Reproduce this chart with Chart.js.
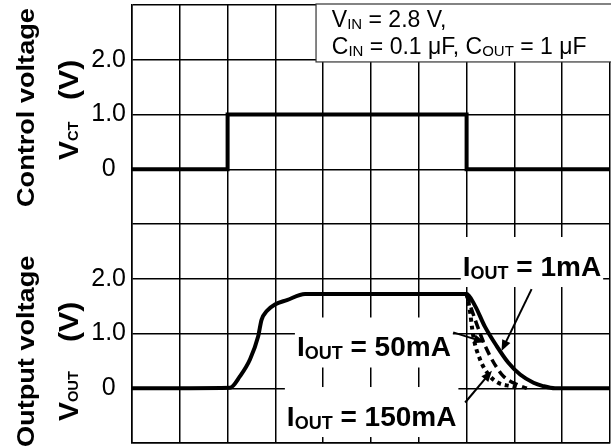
<!DOCTYPE html>
<html lang="en">
<head>
<meta charset="utf-8">
<title>Control voltage / Output voltage</title>
<script src="https://cdn.jsdelivr.net/npm/chart.js@4.4.1/dist/chart.umd.min.js"></script>
<style>
  html, body { margin: 0; padding: 0; background: #fff; }
  #wrap { width: 611px; height: 448px; }
</style>
</head>
<body>
<div id="wrap"><canvas id="timingChart" width="611" height="448"></canvas></div>
<script>
// time axis is in grid divisions (0..10), voltages in volts

// control voltage step
const CT_TIME = [0, 2, 2, 7, 7, 10];
const CT_VOLT = [0, 0, 1, 1, 0, 0];

// output rise (same for every load)
const RISE_TIME = [0, 2.05, 2.26, 2.47, 2.64, 2.71, 2.82, 2.99, 3.24, 3.62, 7.0];
const RISE_VOLT = [0, 0.01, 0.22, 0.53, 0.95, 1.25, 1.41, 1.53, 1.61, 1.72, 1.72];

// output fall per load current
const FALL_1MA_TIME = [7.0, 7.18, 7.38, 7.63, 7.87, 8.12, 8.40, 8.60, 8.85, 10];
const FALL_1MA_VOLT = [1.72, 1.50, 1.13, 0.77, 0.47, 0.25, 0.10, 0.04, 0, 0];
const FALL_50MA_TIME = [7.0, 7.1, 7.2, 7.35, 7.49, 7.63, 7.77, 8.05, 8.26];
const FALL_50MA_VOLT = [1.72, 1.45, 1.20, 0.85, 0.59, 0.38, 0.22, 0.07, 0];
const FALL_150MA_TIME = [7.0, 7.06, 7.14, 7.28, 7.46, 7.66, 7.91, 8.12];
const FALL_150MA_VOLT = [1.72, 1.47, 0.95, 0.53, 0.25, 0.10, 0.04, 0];

// tick text shown for 0, 1 and 2 V in each panel
const TICK_LABELS = ['0', '1.0', '2.0'];

// load labels: left edge (time) and baseline (output volts)
const LOAD_LABELS = [
  { text: ' = 1mA', x: 6.92, v: 2.05 },
  { text: ' = 50mA', x: 3.45, v: 0.58 },
  { text: ' = 150mA', x: 3.24, v: -0.69 }
];

// arrows from label to curve, [time, volts]
const ARROWS = [
  { from: [8.36, 1.81], to: [7.73, 0.68] },
  { from: [6.72, 1.02], to: [7.38, 0.84] },
  { from: [6.97, -0.26], to: [7.53, 0.32] }
];

var FONT = "'Liberation Sans', Arial, Helvetica, sans-serif";

function toPoints(xs, ys) {
  return xs.map(function (x, i) { return { x: x, y: ys[i] }; });
}

function drawRuns(ctx, runs, x, y) {
  runs.forEach(function (r) {
    ctx.font = r.font;
    ctx.fillText(r.text, x, y + (r.dy || 0));
    x += ctx.measureText(r.text).width;
  });
  return x;
}

function runsWidth(ctx, runs) {
  var w = 0;
  runs.forEach(function (r) {
    ctx.font = r.font;
    w += ctx.measureText(r.text).width;
  });
  return w;
}

// rotated text reading bottom to top, baseline at bx, starting at by
function drawVertical(ctx, runs, bx, by, stretch) {
  ctx.save();
  ctx.translate(bx, by);
  ctx.rotate(-Math.PI / 2);
  ctx.scale(stretch, 1);
  ctx.textAlign = 'left';
  ctx.textBaseline = 'alphabetic';
  drawRuns(ctx, runs, 0, 0);
  ctx.restore();
}

function drawArrow(ctx, x1, y1, x2, y2) {
  var ang = Math.atan2(y2 - y1, x2 - x1);
  var head = 11, half = 4.5;
  ctx.save();
  ctx.strokeStyle = '#000';
  ctx.fillStyle = '#000';
  ctx.lineWidth = 2;
  ctx.beginPath();
  ctx.moveTo(x1, y1);
  ctx.lineTo(x2 - Math.cos(ang) * head * 0.8, y2 - Math.sin(ang) * head * 0.8);
  ctx.stroke();
  ctx.beginPath();
  ctx.moveTo(x2, y2);
  ctx.lineTo(x2 - Math.cos(ang) * head - Math.sin(ang) * half, y2 - Math.sin(ang) * head + Math.cos(ang) * half);
  ctx.lineTo(x2 - Math.cos(ang) * head + Math.sin(ang) * half, y2 - Math.sin(ang) * head - Math.cos(ang) * half);
  ctx.closePath();
  ctx.fill();
  ctx.restore();
}

function loadRuns(rest) {
  return [
    { text: 'I', font: 'bold 28px ' + FONT },
    { text: 'OUT', font: 'bold 18px ' + FONT, dy: 3 },
    { text: rest, font: 'bold 28px ' + FONT }
  ];
}

// white boxes under the annotations, drawn over the grid
var boxesPlugin = {
  id: 'boxes',
  beforeDatasetsDraw: function (chart) {
    var ctx = chart.ctx;
    var sx = chart.scales.x, yc = chart.scales.yc, yo = chart.scales.yo;
    var area = chart.chartArea;

    // conditions box in the top panel
    var bx = sx.getPixelForValue(3.85);
    var bb = yc.getPixelForValue(1.96);
    ctx.save();
    ctx.fillStyle = '#fff';
    ctx.fillRect(bx, area.top - 1, area.right + 2 - bx, bb - area.top + 1);
    ctx.strokeStyle = '#333';
    ctx.lineWidth = 1.2;
    ctx.strokeRect(bx, area.top - 1, area.right + 4 - bx, bb - area.top + 1);

    LOAD_LABELS.forEach(function (lab) {
      var lx = sx.getPixelForValue(lab.x);
      var ly = yo.getPixelForValue(lab.v);
      var w = runsWidth(ctx, loadRuns(lab.text));
      ctx.fillStyle = '#fff';
      ctx.fillRect(lx - 2, ly - 39, w + 4, 50);
    });
    ctx.restore();
  },
  afterDatasetsDraw: function (chart) {
    var ctx = chart.ctx;
    var sx = chart.scales.x, yc = chart.scales.yc, yo = chart.scales.yo;

    ctx.save();
    ctx.fillStyle = '#000';
    ctx.textAlign = 'left';
    ctx.textBaseline = 'alphabetic';

    var tx = sx.getPixelForValue(4.18);
    drawRuns(ctx, [
      { text: 'V', font: '23px ' + FONT },
      { text: 'IN', font: '15px ' + FONT, dy: 2 },
      { text: ' = 2.8 V,', font: '23px ' + FONT }
    ], tx, yc.getPixelForValue(2.60));
    drawRuns(ctx, [
      { text: 'C', font: '23px ' + FONT },
      { text: 'IN', font: '15px ' + FONT, dy: 2 },
      { text: ' = 0.1 \u03bcF, C', font: '23px ' + FONT },
      { text: 'OUT', font: '15px ' + FONT, dy: 2 },
      { text: ' = 1 \u03bcF', font: '23px ' + FONT }
    ], tx, yc.getPixelForValue(2.11));

    LOAD_LABELS.forEach(function (lab) {
      drawRuns(ctx, loadRuns(lab.text), sx.getPixelForValue(lab.x), yo.getPixelForValue(lab.v));
    });

    ARROWS.forEach(function (a) {
      drawArrow(ctx,
        sx.getPixelForValue(a.from[0]), yo.getPixelForValue(a.from[1]),
        sx.getPixelForValue(a.to[0]), yo.getPixelForValue(a.to[1]));
    });

    // panel titles on the left
    var big = 'bold 24px ' + FONT;
    var sym = 'bold 27px ' + FONT;
    var sub = 'bold 14px ' + FONT;
    drawVertical(ctx, [{ text: 'Control voltage', font: big }], 33.5, 207, 1.13);
    drawVertical(ctx, [{ text: 'V', font: sym }, { text: 'CT', font: sub }], 78, 160, 1.05);
    drawVertical(ctx, [{ text: '(V)', font: sym }], 78, 100, 1.12);
    drawVertical(ctx, [{ text: 'Output voltage', font: big }], 33.5, 447, 1.13);
    drawVertical(ctx, [{ text: 'V', font: sym }, { text: 'OUT', font: sub }], 78, 421, 1.05);
    drawVertical(ctx, [{ text: '(V)', font: sym }], 78, 342, 1.12);
    ctx.restore();
  }
};

function tickText(value) {
  if (value >= 0 && value <= 2) return TICK_LABELS[value];
  if (value >= -4 && value <= -2) return TICK_LABELS[value + 4];
  return '';
}

function initChart() {
  var canvas = document.getElementById('timingChart');
  var ctx = canvas.getContext('2d');

  var lineBase = {
    borderColor: '#000',
    pointRadius: 0,
    fill: false,
    borderCapStyle: 'butt'
  };

  new Chart(ctx, {
    type: 'line',
    data: {
      datasets: [
        Object.assign({}, lineBase, {
          label: 'VCT',
          data: toPoints(CT_TIME, CT_VOLT),
          yAxisID: 'yc',
          borderWidth: 4,
          tension: 0
        }),
        Object.assign({}, lineBase, {
          label: 'IOUT = 150mA',
          data: toPoints(FALL_150MA_TIME, FALL_150MA_VOLT),
          yAxisID: 'yo',
          borderWidth: 4,
          borderDash: [4, 4],
          cubicInterpolationMode: 'monotone'
        }),
        Object.assign({}, lineBase, {
          label: 'IOUT = 50mA',
          data: toPoints(FALL_50MA_TIME, FALL_50MA_VOLT),
          yAxisID: 'yo',
          borderWidth: 3.5,
          borderDash: [9, 5],
          cubicInterpolationMode: 'monotone'
        }),
        Object.assign({}, lineBase, {
          label: 'IOUT = 1mA',
          data: toPoints(RISE_TIME.concat(FALL_1MA_TIME.slice(1)), RISE_VOLT.concat(FALL_1MA_VOLT.slice(1))),
          yAxisID: 'yo',
          borderWidth: 4,
          cubicInterpolationMode: 'monotone'
        })
      ]
    },
    options: {
      responsive: false,
      animation: false,
      layout: { padding: { left: 0, top: 5, right: 1, bottom: 5 } },
      plugins: {
        legend: { display: false },
        tooltip: { enabled: false }
      },
      scales: {
        x: {
          type: 'linear',
          min: 0,
          max: 10,
          afterFit: function (scale) {
            scale.height = 0;
            scale.paddingLeft = 0;
            scale.paddingRight = 0;
          },
          ticks: { stepSize: 1, display: false },
          grid: { color: '#000', lineWidth: 1.5, drawTicks: false },
          border: { color: '#000', width: 1.5 }
        },
        yc: {
          position: 'left',
          min: -5,
          max: 3,
          afterFit: function (scale) {
            scale.width = 132;
            scale.paddingTop = 0;
            scale.paddingBottom = 0;
          },
          ticks: {
            stepSize: 1,
            crossAlign: 'center',
            padding: 6,
            color: '#000',
            font: { family: FONT, size: 25 },
            callback: function (value) { return tickText(value); }
          },
          grid: { color: '#000', lineWidth: 1.5, drawTicks: false },
          border: { color: '#000', width: 1.5 }
        },
        yo: {
          display: false,
          min: -1,
          max: 7
        }
      }
    },
    plugins: [boxesPlugin]
  });
}

initChart();
</script>
</body>
</html>
